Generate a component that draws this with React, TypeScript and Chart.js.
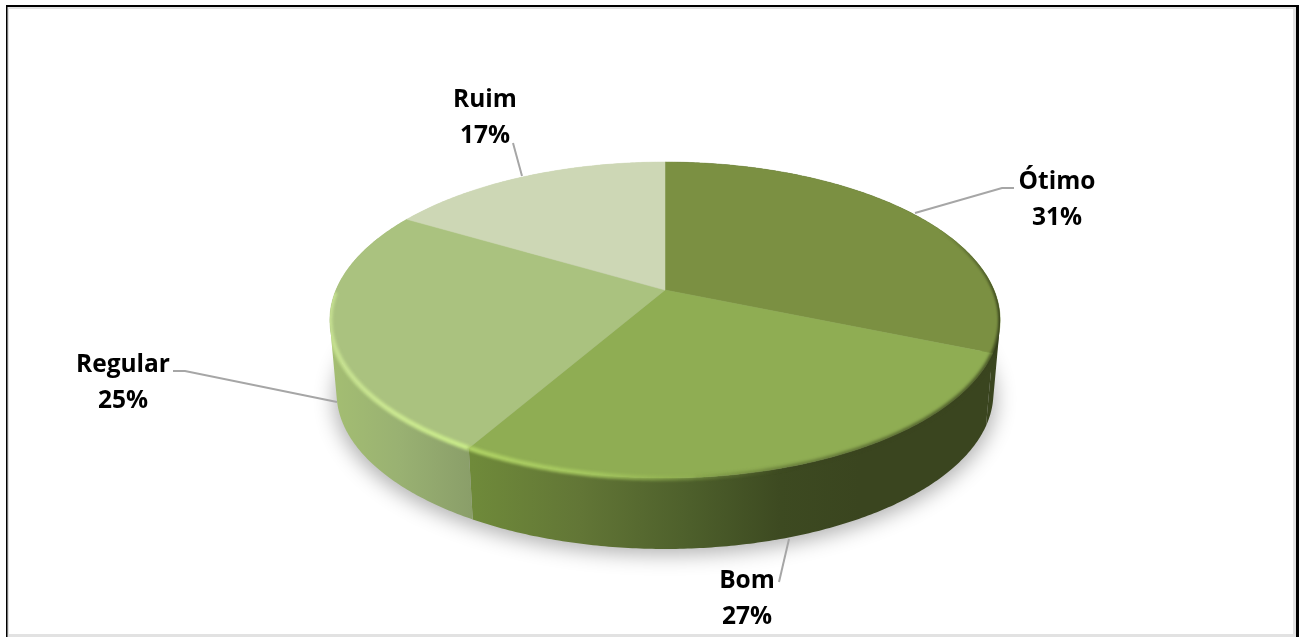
import React, { useEffect, useRef } from "react";
import { Chart, registerables } from "chart.js";

Chart.register(...registerables);

const categories = ["Ótimo", "Bom", "Regular", "Ruim"];
const shares = [31.3, 27.0, 25.2, 16.5];
const topColors = ["#7b9042", "#8fad53", "#aac27f", "#cdd7b5"];

const sideStops: [number, string][][] = [
  [[950, "#3a451f"], [1002, "#3a451f"]],
  [[472, "#6f8a3a"], [580, "#627636"], [690, "#4d5f2b"], [780, "#3d4a21"], [860, "#3a451f"], [1002, "#3a451f"]],
  [[330, "#a4be72"], [400, "#99b172"], [472, "#8a9e69"]],
  [[330, "#cdd7b5"], [665, "#cdd7b5"]],
];

const labelBoxes = [
  { x: 1057, y: 182 },
  { x: 747, y: 581 },
  { x: 123, y: 365 },
  { x: 485, y: 100 },
];
const leaders = [
  [[1014, 188], [1002, 188], [915, 213]],
  [[779, 582], [789, 539]],
  [[173, 371], [185, 371], [337, 402]],
  [[513, 143], [522, 176]],
];

const W = 1304;
const H = 637;
const CX = 665;
const APEX_Y = 290;
const KX = 329;
const KY = 97.2;
const TILT = -0.19;
const ELLIPSE_CY = 320;
const BOTTOM_CY = 393;

function rim(a: number) {
  const u = Math.cos(a);
  const v = Math.sin(a);
  const d = 1 + TILT * v;
  return { x: CX + (KX * u) / d, y: (KY * v + APEX_Y) / d };
}
function rimLow(a: number) {
  const p = rim(a);
  return { x: CX + (p.x - CX) * 0.98, y: BOTTOM_CY + (p.y - ELLIPSE_CY) * 0.987 };
}
function samples(a0: number, a1: number) {
  const n = Math.max(2, Math.ceil((a1 - a0) / 0.01));
  const out: number[] = [];
  for (let i = 0; i <= n; i++) out.push(a0 + ((a1 - a0) * i) / n);
  return out;
}
function xGradient(ctx: CanvasRenderingContext2D, stops: [number, string][]) {
  const x0 = stops[0][0];
  const x1 = stops[stops.length - 1][0];
  const g = ctx.createLinearGradient(x0, 0, x1, 0);
  stops.forEach(([x, c]) => g.addColorStop((x - x0) / (x1 - x0), c));
  return g;
}
// Adds the wall between two rim angles as same-winding quads, so the whole silhouette is covered.
function addWall(ctx: CanvasRenderingContext2D, a0: number, a1: number) {
  const pts = samples(a0, a1);
  for (let k = 0; k < pts.length - 1; k++) {
    let q = [rim(pts[k]), rim(pts[k + 1]), rimLow(pts[k + 1]), rimLow(pts[k])];
    let area = 0;
    q.forEach((p, i) => {
      const n = q[(i + 1) % 4];
      area += p.x * n.y - n.x * p.y;
    });
    if (area < 0) q = q.slice().reverse();
    q.forEach((p, i) => (i === 0 ? ctx.moveTo(p.x, p.y) : ctx.lineTo(p.x, p.y)));
    ctx.closePath();
  }
}
function discPath(ctx: CanvasRenderingContext2D) {
  ctx.beginPath();
  addWall(ctx, 0, Math.PI * 2);
  samples(0, Math.PI * 2).forEach((a, i) => {
    const p = rim(a);
    if (i === 0) ctx.moveTo(p.x, p.y);
    else ctx.lineTo(p.x, p.y);
  });
  ctx.closePath();
}
function strokeRim(ctx: CanvasRenderingContext2D, a0: number, a1: number, stops: [number, string][], width: number, blur: number) {
  ctx.save();
  discPath(ctx);
  ctx.clip();
  ctx.filter = `blur(${blur}px)`;
  ctx.lineWidth = width;
  ctx.lineCap = "butt";
  ctx.strokeStyle = xGradient(ctx, stops);
  ctx.beginPath();
  samples(a0, a1).forEach((a, i) => {
    const p = rim(a);
    if (i === 0) ctx.moveTo(p.x, p.y);
    else ctx.lineTo(p.x, p.y);
  });
  ctx.stroke();
  ctx.restore();
}

const piePlugin = {
  id: "perspectivePie",
  beforeDraw(chart: any) {
    const ctx: CanvasRenderingContext2D = chart.ctx;
    ctx.save();
    ctx.fillStyle = "#ffffff";
    ctx.fillRect(0, 0, W, H);
    ctx.fillStyle = "#e2e2e2";
    ctx.fillRect(7, 7, 2, H - 7);
    ctx.fillRect(7, 7, 1289, 2);
    ctx.fillRect(1293, 7, 3, H - 7);
    ctx.fillRect(7, 634, 1289, 3);
    ctx.fillStyle = "#000000";
    ctx.fillRect(6, 5, 1293, 2);
    ctx.fillRect(6, 5, 1.5, H - 5);
    ctx.fillRect(1296, 5, 3, H - 5);
    ctx.restore();
  },
  beforeDatasetsDraw(chart: any) {
    const ctx: CanvasRenderingContext2D = chart.ctx;
    const arcs = chart.getDatasetMeta(0).data;
    ctx.save();

    // soft shadow under the disc: the caster sits off-canvas, only its shadow lands here
    ctx.save();
    ctx.shadowColor = "rgba(0,0,0,0.3)";
    ctx.shadowBlur = 20;
    ctx.shadowOffsetX = 3000;
    ctx.shadowOffsetY = 4;
    ctx.fillStyle = "#000";
    ctx.beginPath();
    ctx.ellipse(CX - 3000, BOTTOM_CY + 2, 331, 156, 0, 0, Math.PI * 2);
    ctx.fill();
    ctx.restore();

    // side walls
    arcs.forEach((el: any, i: number) => {
      ctx.fillStyle = xGradient(ctx, sideStops[i]);
      ctx.beginPath();
      addWall(ctx, el.startAngle, el.endAngle);
      ctx.fill();
    });

    // top faces
    arcs.forEach((el: any, i: number) => {
      ctx.fillStyle = topColors[i];
      ctx.strokeStyle = topColors[i];
      ctx.lineWidth = 0.5;
      ctx.beginPath();
      ctx.moveTo(CX, APEX_Y);
      samples(el.startAngle, el.endAngle).forEach((a) => {
        const p = rim(a);
        ctx.lineTo(p.x, p.y);
      });
      ctx.closePath();
      ctx.fill();
      ctx.stroke();
    });

    // bevel along the rim
    const [o, b, r] = arcs;
    strokeRim(ctx, r.startAngle, r.endAngle - 0.55, [[330, "rgba(205,232,150,0.8)"], [400, "rgba(205,235,145,0.95)"], [472, "rgba(200,235,135,1)"]], 5, 1.5);
    strokeRim(ctx, b.startAngle + 0.35, b.endAngle, [[472, "rgba(175,210,100,1)"], [600, "rgba(165,200,95,0.9)"], [760, "rgba(130,160,70,0.2)"], [800, "rgba(60,72,30,0)"]], 5, 1.5);
    strokeRim(ctx, b.startAngle, b.startAngle + 1.1, [[680, "rgba(58,68,30,0)"], [800, "rgba(58,68,30,0.45)"], [995, "rgba(58,68,30,0.85)"]], 4, 1.5);
    strokeRim(ctx, o.startAngle + 0.6, o.endAngle, [[940, "rgba(50,60,25,0)"], [985, "rgba(50,60,25,0.55)"], [1002, "rgba(50,60,25,0.9)"]], 4, 1.2);

    ctx.restore();
    return false;
  },
  afterDraw(chart: any) {
    const ctx: CanvasRenderingContext2D = chart.ctx;
    ctx.save();
    ctx.strokeStyle = "#a6a6a6";
    ctx.lineWidth = 2;
    leaders.forEach((line) => {
      ctx.beginPath();
      line.forEach(([x, y], i) => (i === 0 ? ctx.moveTo(x, y) : ctx.lineTo(x, y)));
      ctx.stroke();
    });
    ctx.fillStyle = "#000000";
    ctx.font = 'bold 24.5px "Open Sans", Lato, sans-serif';
    ctx.textAlign = "center";
    ctx.textBaseline = "middle";
    categories.forEach((name, i) => {
      const box = labelBoxes[i];
      ctx.fillText(name, box.x, box.y);
      ctx.fillText(`${Math.round(shares[i])}%`, box.x, box.y + 36.5);
    });
    ctx.restore();
  },
};

export default function App() {
  const ref = useRef<HTMLCanvasElement | null>(null);
  useEffect(() => {
    document.body.style.margin = "0";
    const chart = new Chart(ref.current as HTMLCanvasElement, {
      type: "pie",
      data: {
        labels: categories,
        datasets: [{ data: shares, backgroundColor: topColors, borderWidth: 0 }],
      },
      options: {
        animation: false,
        responsive: false,
        devicePixelRatio: 1,
        plugins: { legend: { display: false }, tooltip: { enabled: false } },
      },
      plugins: [piePlugin as any],
    });
    return () => chart.destroy();
  }, []);
  return <canvas ref={ref} width={W} height={H} style={{ display: "block", width: W, height: H }} />;
}
